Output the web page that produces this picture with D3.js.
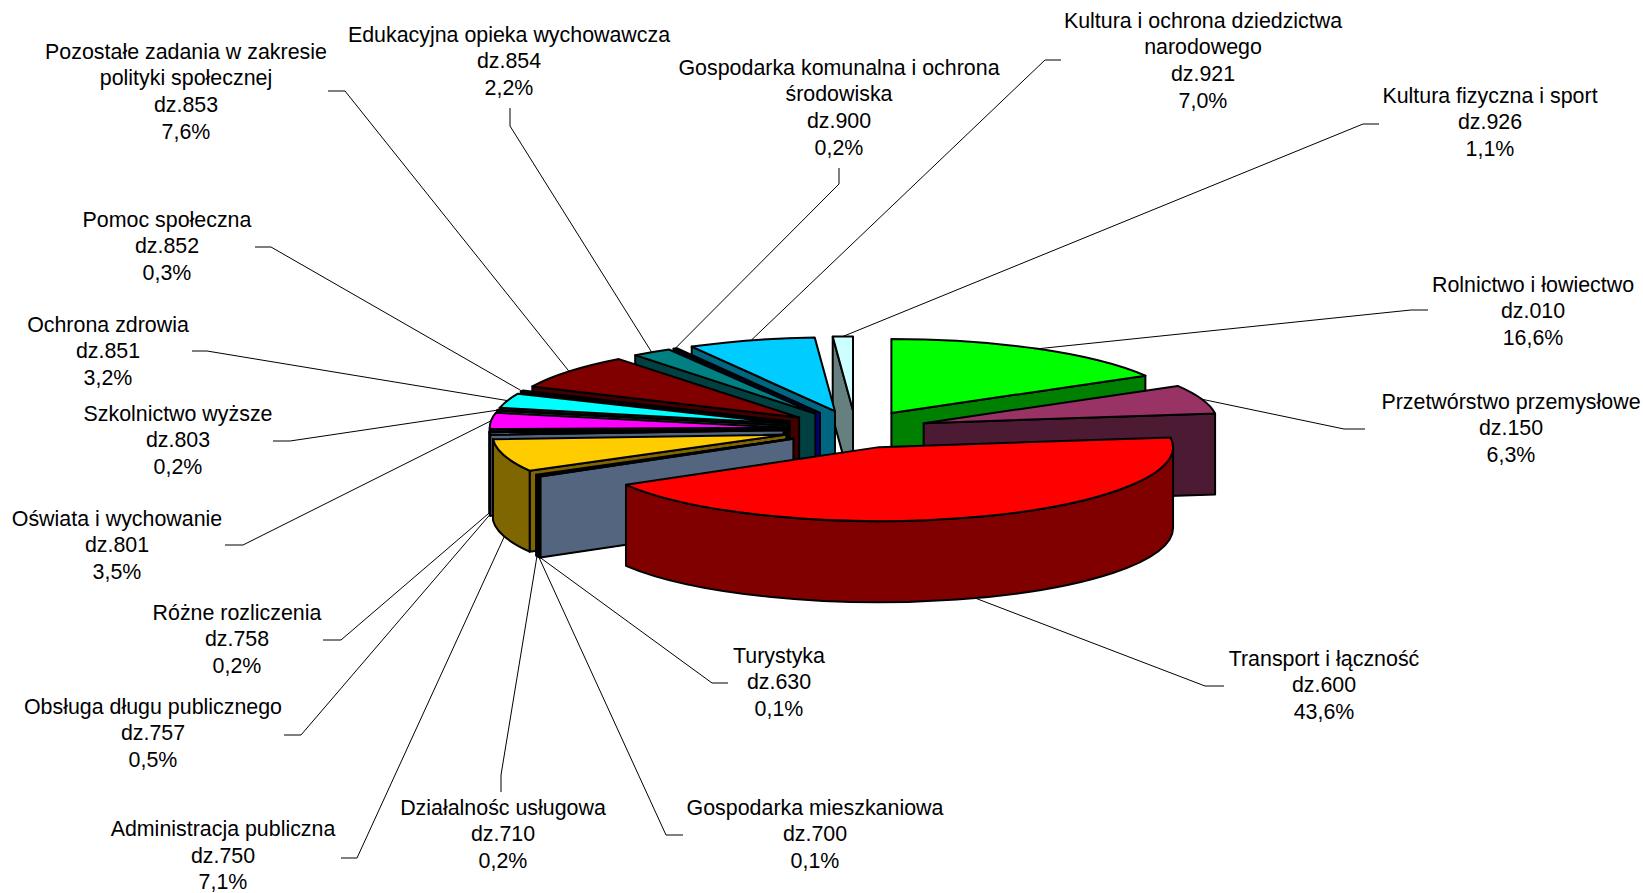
<!DOCTYPE html>
<html>
<head>
<meta charset="utf-8">
<script src="https://d3js.org/d3.v7.min.js"></script>
<style>
  html, body { margin: 0; padding: 0; background: #fff; }
  text { font-family: "Liberation Sans", Arial, sans-serif; font-size: 21.4px; fill: #000; }
</style>
</head>
<body>
<div id="chart"></div>
<script>
// data, clockwise from 12 o'clock
const names = [
  ['Rolnictwo i łowiectwo'],
  ['Przetwórstwo przemysłowe'],
  ['Transport i łączność'],
  ['Turystyka'],
  ['Gospodarka mieszkaniowa'],
  ['Działalnośc usługowa'],
  ['Administracja publiczna'],
  ['Obsługa długu publicznego'],
  ['Różne rozliczenia'],
  ['Oświata i wychowanie'],
  ['Szkolnictwo wyższe'],
  ['Ochrona zdrowia'],
  ['Pomoc społeczna'],
  ['Pozostałe zadania w zakresie', 'polityki społecznej'],
  ['Edukacyjna opieka wychowawcza'],
  ['Gospodarka komunalna i ochrona', 'środowiska'],
  ['Kultura i ochrona dziedzictwa', 'narodowego'],
  ['Kultura fizyczna i sport']
];
const codes = ['010', '150', '600', '630', '700', '710', '750', '757', '758', '801', '803', '851', '852', '853', '854', '900', '921', '926'];
const shares = [16.6, 6.3, 43.6, 0.1, 0.1, 0.2, 7.1, 0.5, 0.2, 3.5, 0.2, 3.2, 0.3, 7.6, 2.2, 0.2, 7.0, 1.1];

const topColors = ['#00ff00', '#993366', '#ff0000', '#a6caf0', '#808080', '#808080', '#ffcc00', '#a6caf0', '#a6caf0', '#ff00ff', '#a6caf0', '#00ffff', '#000000', '#800000', '#008080', '#0000ff', '#00ccff', '#ccffff'];
const sideColors = ['#008000', '#4d1a33', '#800000', '#53657f', '#404040', '#404040', '#806600', '#53657f', '#53657f', '#800080', '#53657f', '#008080', '#000000', '#400000', '#004040', '#000080', '#006680', '#668080'];

// label layout: centre x, first line y, then leader elbow and leader end
const labelLayout = [
  [1533, 285.5, 1411, 310, 1428, 310],
  [1511, 402.5, 1344, 429, 1365, 429],
  [1324, 659.5, 1205, 686, 1224, 686],
  [779, 656.5, 712, 683, 728, 683],
  [815, 808.5, 666, 835, 683, 835],
  [503, 808.5, 501, 775, 501, 792],
  [223, 830, 357, 858, 341, 858],
  [153, 707.5, 301, 735, 284, 735],
  [237, 613.5, 341, 640, 323, 640],
  [117, 519.5, 243, 545, 225, 545],
  [178, 414.5, 290, 441, 273, 441],
  [108, 325.5, 207, 351, 192, 351],
  [167, 220.5, 271, 247, 255, 247],
  [186, 52.5, 345, 91, 328, 91],
  [509, 35.5, 510, 126, 510, 108],
  [839, 68.5, 839, 184, 839, 168],
  [1203, 21.5, 1045, 60, 1061, 60],
  [1490, 96.5, 1363, 124, 1379, 124]
];

const width = 1643, height = 893;

// pie geometry: flat projected circle, every slice pushed out along its mid angle
const center = [855.5, 429.3];
const radiusX = 294, radiusY = 74, depth = 81;
const explodeX = 0.245, explodeY = 0.255;

const xScale = d3.scaleLinear().domain([-1, 1]).range([center[0] - radiusX, center[0] + radiusX]);
const yScale = d3.scaleLinear().domain([-1, 1]).range([center[1] + radiusY, center[1] - radiusY]);

const slices = d3.pie().sort(null).value(d => d)(shares).map((d, i) => {
  const mid = (d.startAngle + d.endAngle) / 2;
  return { i, a0: d.startAngle, a1: d.endAngle, mid,
           ox: explodeX * Math.sin(mid), oy: explodeY * Math.cos(mid) };
});

const px = (s, a) => xScale(s.ox + Math.sin(a));
const py = (s, a) => yScale(s.oy + Math.cos(a));
const apexX = s => xScale(s.ox);
const apexY = s => yScale(s.oy);

const svg = d3.select('#chart').append('svg')
  .attr('width', width)
  .attr('height', height)
  .style('display', 'block');

function arcTo(s, a0, a1, dy, sweep) {
  const large = Math.abs(a1 - a0) > Math.PI ? 1 : 0;
  return `A${radiusX},${radiusY} 0 ${large} ${sweep} ${px(s, a1)},${py(s, a1) + dy}`;
}

function topPath(s) {
  return `M${apexX(s)},${apexY(s)}L${px(s, s.a0)},${py(s, s.a0)}` + arcTo(s, s.a0, s.a1, 0, 1) + 'Z';
}

function wallPath(s, a) {
  const x = px(s, a), y = py(s, a);
  return `M${apexX(s)},${apexY(s)}L${x},${y}L${x},${y + depth}L${apexX(s)},${apexY(s) + depth}Z`;
}

function rimPath(s, a0, a1) {
  return `M${px(s, a0)},${py(s, a0)}` + arcTo(s, a0, a1, 0, 1) +
    `L${px(s, a1)},${py(s, a1) + depth}` + arcTo(s, a1, a0, depth, 0) + 'Z';
}

// leaders go underneath the pie
const leaders = svg.append('g');
slices.forEach(s => {
  const l = labelLayout[s.i];
  const front = Math.cos(s.mid) < 0;
  const sx = px(s, s.mid), sy = py(s, s.mid) + (front ? depth : 0);
  leaders.append('path')
    .attr('d', d3.line()([[sx, sy], [l[2], l[3]], [l[4], l[5]]]))
    .attr('fill', 'none')
    .attr('stroke', '#000')
    .attr('stroke-width', 1);
});

// back to front
const pie = svg.append('g')
  .attr('stroke', '#000')
  .attr('stroke-width', 2)
  .attr('stroke-linejoin', 'round');

d3.sort(slices, (a, b) => Math.cos(b.mid) - Math.cos(a.mid)).forEach(s => {
  const side = sideColors[s.i];
  const g = pie.append('g');
  if (Math.sin(s.a0) < -1e-6) g.append('path').attr('d', wallPath(s, s.a0)).attr('fill', side);
  if (Math.sin(s.a1) > 1e-6) g.append('path').attr('d', wallPath(s, s.a1)).attr('fill', side);
  const r0 = Math.max(s.a0, Math.PI / 2), r1 = Math.min(s.a1, 3 * Math.PI / 2);
  if (r1 > r0) g.append('path').attr('d', rimPath(s, r0, r1)).attr('fill', side);
  g.append('path').attr('d', topPath(s)).attr('fill', topColors[s.i]);
});

// labels
const lineStep = 26.7;
slices.forEach(s => {
  const l = labelLayout[s.i];
  const lines = names[s.i].concat(['dz.' + codes[s.i], d3.format('.1f')(shares[s.i]).replace('.', ',') + '%']);
  const t = svg.append('text').attr('text-anchor', 'middle').attr('dominant-baseline', 'middle');
  lines.forEach((line, k) => {
    t.append('tspan').attr('x', l[0]).attr('y', l[1] + k * lineStep).text(line);
  });
});
</script>
</body>
</html>
